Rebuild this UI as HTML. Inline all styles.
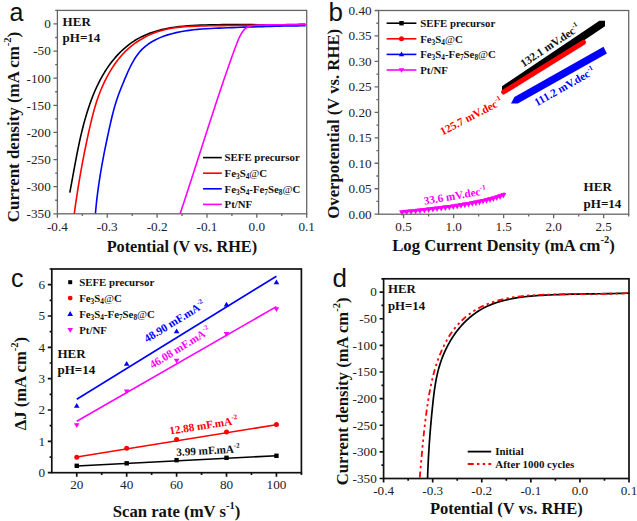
<!DOCTYPE html>
<html><head><meta charset="utf-8"><style>
html,body{margin:0;padding:0;background:#fff;width:637px;height:521px;overflow:hidden;}
svg{display:block;}
</style></head><body>
<svg width="637" height="521" viewBox="0 0 637 521">
<rect width="637" height="521" fill="#fff"/>
<path d="M69.84,192.53L70.64,188.22L71.43,183.92L72.21,179.63L72.98,175.34L73.76,171.06L74.54,166.8L75.33,162.54L76.13,158.28L76.95,154.04L77.8,149.8L78.67,145.58L79.57,141.36L80.51,137.15L81.5,132.94L82.53,128.75L83.61,124.56L84.74,120.38L85.94,116.21L87.2,112.05L88.53,107.9L89.94,103.76L91.43,99.64L93.01,95.56L94.68,91.51L96.45,87.5L98.33,83.55L100.32,79.65L102.43,75.81L104.67,72.05L107.04,68.37L109.54,64.78L112.19,61.28L114.97,57.9L117.89,54.64L120.94,51.52L124.12,48.56L127.42,45.78L130.84,43.18L134.38,40.79L138.02,38.62L141.77,36.66L145.62,34.9L149.55,33.33L153.57,31.93L157.66,30.7L161.82,29.62L166.03,28.69L170.3,27.89L174.62,27.21L178.97,26.65L183.35,26.18L187.75,25.8L192.17,25.5L196.59,25.26L201.02,25.08L205.44,24.94L209.84,24.84L214.23,24.75L218.59,24.69L222.94,24.65L227.27,24.62L231.6,24.61L235.91,24.61L240.21,24.61L244.51,24.63L248.8,24.65L253.09,24.67L257.39,24.69L261.68,24.71L265.98,24.72L270.29,24.73L274.61,24.73L278.94,24.72L283.28,24.7L287.64,24.66L292.01,24.6L296.41,24.52L300.83,24.42L305.27,24.3" fill="none" stroke="#000" stroke-width="1.6" stroke-linejoin="round"/>
<path d="M74.26,213.78L74.87,209.29L75.5,204.8L76.16,200.31L76.83,195.82L77.53,191.32L78.24,186.83L78.98,182.34L79.74,177.85L80.52,173.36L81.32,168.88L82.14,164.4L82.98,159.93L83.85,155.46L84.73,151L85.63,146.54L86.56,142.09L87.5,137.65L88.47,133.22L89.45,128.8L90.46,124.39L91.5,119.99L92.6,115.61L93.76,111.24L94.99,106.9L96.32,102.58L97.75,98.29L99.3,94.02L100.97,89.79L102.77,85.59L104.7,81.44L106.76,77.33L108.96,73.29L111.31,69.34L113.8,65.48L116.45,61.74L119.26,58.13L122.22,54.68L125.36,51.4L128.66,48.3L132.13,45.41L135.76,42.72L139.53,40.23L143.42,37.94L147.44,35.87L151.56,34L155.77,32.36L160.06,30.93L164.43,29.72L168.85,28.73L173.31,27.95L177.82,27.35L182.36,26.9L186.92,26.57L191.49,26.34L196.07,26.16L200.65,26.03L205.22,25.91L209.78,25.81L214.34,25.72L218.9,25.65L223.44,25.58L227.99,25.52L232.53,25.47L237.07,25.43L241.6,25.39L246.13,25.36L250.67,25.33L255.2,25.3L259.73,25.26L264.27,25.23L268.8,25.19L273.34,25.15L277.88,25.1L282.42,25.05L286.97,24.98L291.52,24.91L296.08,24.82L300.64,24.72L305.22,24.61" fill="none" stroke="#ff0000" stroke-width="1.6" stroke-linejoin="round"/>
<path d="M95.41,213.79L95.78,209.5L96.2,205.21L96.65,200.92L97.15,196.63L97.69,192.35L98.27,188.06L98.88,183.79L99.52,179.51L100.2,175.24L100.91,170.97L101.65,166.71L102.41,162.45L103.2,158.19L104.01,153.95L104.84,149.7L105.7,145.47L106.57,141.24L107.46,137.01L108.36,132.8L109.28,128.59L110.21,124.39L111.17,120.2L112.17,116.03L113.23,111.88L114.35,107.75L115.55,103.64L116.84,99.56L118.23,95.51L119.73,91.49L121.31,87.49L122.96,83.46L124.64,79.41L126.37,75.33L128.15,71.26L130.04,67.24L132.04,63.31L134.21,59.53L136.56,55.92L139.13,52.53L141.95,49.41L145.03,46.58L148.35,44.03L151.89,41.73L155.61,39.69L159.49,37.87L163.51,36.27L167.64,34.87L171.86,33.66L176.13,32.61L180.43,31.72L184.74,30.97L189.05,30.34L193.35,29.82L197.66,29.39L201.96,29.04L206.25,28.76L210.55,28.52L214.85,28.32L219.16,28.14L223.46,27.97L227.77,27.8L232.08,27.63L236.39,27.47L240.71,27.31L245.03,27.16L249.35,27.01L253.67,26.87L257.99,26.74L262.31,26.61L266.63,26.49L270.95,26.37L275.27,26.26L279.6,26.16L283.92,26.06L288.24,25.98L292.55,25.9L296.87,25.83L301.19,25.77L305.5,25.71" fill="none" stroke="#0000ff" stroke-width="1.6" stroke-linejoin="round"/>
<path d="M180.13,213.75L181.16,210.66L182.18,207.57L183.2,204.48L184.22,201.39L185.23,198.29L186.25,195.19L187.26,192.08L188.28,188.98L189.29,185.87L190.3,182.76L191.3,179.64L192.31,176.53L193.32,173.41L194.33,170.29L195.33,167.17L196.34,164.05L197.34,160.93L198.35,157.81L199.35,154.69L200.36,151.57L201.36,148.44L202.37,145.32L203.37,142.2L204.38,139.08L205.39,135.96L206.39,132.84L207.4,129.72L208.41,126.6L209.42,123.48L210.44,120.37L211.45,117.25L212.47,114.14L213.49,111.03L214.51,107.93L215.53,104.82L216.55,101.72L217.58,98.62L218.61,95.53L219.64,92.43L220.67,89.34L221.71,86.26L222.75,83.18L223.79,80.1L224.84,77.03L225.89,73.96L226.94,70.89L228,67.83L229.07,64.77L230.14,61.7L231.23,58.63L232.34,55.55L233.47,52.45L234.62,49.34L235.8,46.2L237,43.05L238.25,39.89L239.61,36.8L241.14,33.88L242.91,31.2L244.98,28.87L247.43,27.04L250.31,25.95L253.51,25.47L256.84,25.26L260.16,25.11L263.47,24.99L266.77,24.91L270.05,24.85L273.33,24.81L276.6,24.79L279.87,24.77L283.13,24.76L286.39,24.76L289.65,24.75L292.91,24.72L296.17,24.69L299.44,24.64L302.72,24.56L306,24.45" fill="none" stroke="#ff00ff" stroke-width="1.6" stroke-linejoin="round"/>
<rect x="57.4" y="10.4" width="249.3" height="203.4" fill="none" stroke="#666" stroke-width="1.3"/>
<path d="M57.4,213.8v4M107.26,213.8v4M157.12,213.8v4M206.98,213.8v4M256.84,213.8v4M306.7,213.8v4M82.33,213.8v2.2M132.19,213.8v2.2M182.05,213.8v2.2M231.91,213.8v2.2M281.77,213.8v2.2M57.4,213.8h-4M57.4,186.68h-4M57.4,159.56h-4M57.4,132.44h-4M57.4,105.32h-4M57.4,78.2h-4M57.4,51.08h-4M57.4,23.96h-4M57.4,200.24h-2.2M57.4,173.12h-2.2M57.4,146h-2.2M57.4,118.88h-2.2M57.4,91.76h-2.2M57.4,64.64h-2.2M57.4,37.52h-2.2M57.4,10.4h-2.2" stroke="#666" stroke-width="1.3" fill="none"/>
<text x="57.4" y="230.8" font-size="13.2" text-anchor="middle" font-weight="normal" fill="#222" font-family='"Liberation Serif", serif' >-0.4</text>
<text x="107.26" y="230.8" font-size="13.2" text-anchor="middle" font-weight="normal" fill="#222" font-family='"Liberation Serif", serif' >-0.3</text>
<text x="157.12" y="230.8" font-size="13.2" text-anchor="middle" font-weight="normal" fill="#222" font-family='"Liberation Serif", serif' >-0.2</text>
<text x="206.98" y="230.8" font-size="13.2" text-anchor="middle" font-weight="normal" fill="#222" font-family='"Liberation Serif", serif' >-0.1</text>
<text x="256.84" y="230.8" font-size="13.2" text-anchor="middle" font-weight="normal" fill="#222" font-family='"Liberation Serif", serif' >0.0</text>
<text x="306.7" y="230.8" font-size="13.2" text-anchor="middle" font-weight="normal" fill="#222" font-family='"Liberation Serif", serif' >0.1</text>
<text x="50.8" y="218.16" font-size="13.2" text-anchor="end" font-weight="normal" fill="#222" font-family='"Liberation Serif", serif' >-350</text>
<text x="50.8" y="191.04" font-size="13.2" text-anchor="end" font-weight="normal" fill="#222" font-family='"Liberation Serif", serif' >-300</text>
<text x="50.8" y="163.92" font-size="13.2" text-anchor="end" font-weight="normal" fill="#222" font-family='"Liberation Serif", serif' >-250</text>
<text x="50.8" y="136.8" font-size="13.2" text-anchor="end" font-weight="normal" fill="#222" font-family='"Liberation Serif", serif' >-200</text>
<text x="50.8" y="109.68" font-size="13.2" text-anchor="end" font-weight="normal" fill="#222" font-family='"Liberation Serif", serif' >-150</text>
<text x="50.8" y="82.56" font-size="13.2" text-anchor="end" font-weight="normal" fill="#222" font-family='"Liberation Serif", serif' >-100</text>
<text x="50.8" y="55.44" font-size="13.2" text-anchor="end" font-weight="normal" fill="#222" font-family='"Liberation Serif", serif' >-50</text>
<text x="50.8" y="28.32" font-size="13.2" text-anchor="end" font-weight="normal" fill="#222" font-family='"Liberation Serif", serif' >0</text>
<text x="62.6" y="25.7" font-size="13" text-anchor="start" font-weight="bold" fill="#111" font-family='"Liberation Serif", serif' >HER</text>
<text x="62.6" y="42.2" font-size="13" text-anchor="start" font-weight="bold" fill="#111" font-family='"Liberation Serif", serif' >pH=14</text>
<path d="M203,157.6H221.8" stroke="#000" stroke-width="1.6"/>
<text x="224.6" y="161.3" font-size="10.8" text-anchor="start" font-weight="bold" fill="#111" font-family='"Liberation Serif", serif' >SEFE precursor</text>
<path d="M203,173.2H221.8" stroke="#ff0000" stroke-width="1.6"/>
<text x="224.6" y="176.9" font-size="10.8" text-anchor="start" font-weight="bold" fill="#111" font-family='"Liberation Serif", serif' >Fe<tspan font-size="7.34" dy="2.3">3</tspan><tspan dy="-2.3">S</tspan><tspan font-size="7.34" dy="2.3">4</tspan><tspan dy="-2.3"><tspan font-weight="normal">@</tspan>C</tspan></text>
<path d="M203,188.8H221.8" stroke="#0000ff" stroke-width="1.6"/>
<text x="224.6" y="192.5" font-size="10.8" text-anchor="start" font-weight="bold" fill="#111" font-family='"Liberation Serif", serif' >Fe<tspan font-size="7.34" dy="2.3">3</tspan><tspan dy="-2.3">S</tspan><tspan font-size="7.34" dy="2.3">4</tspan><tspan dy="-2.3">-Fe</tspan><tspan font-size="7.34" dy="2.3">7</tspan><tspan dy="-2.3">Se</tspan><tspan font-size="7.34" dy="2.3">8</tspan><tspan dy="-2.3"><tspan font-weight="normal">@</tspan>C</tspan></text>
<path d="M203,204.4H221.8" stroke="#ff00ff" stroke-width="1.6"/>
<text x="224.6" y="208.1" font-size="10.8" text-anchor="start" font-weight="bold" fill="#111" font-family='"Liberation Serif", serif' >Pt/NF</text>
<text x="181.9" y="252.2" font-size="16.25" text-anchor="middle" font-weight="bold" fill="#111" font-family='"Liberation Serif", serif' >Potential (V vs. RHE)</text>
<g transform="translate(19.3,127) rotate(-90)">
<text x="0" y="0" font-size="16.95" text-anchor="middle" font-weight="bold" fill="#111" font-family='"Liberation Serif", serif' >Current density (mA cm<tspan font-size="10.5" dy="-8">-2</tspan><tspan dy="8">)</tspan></text>
</g>
<text x="9.6" y="21" font-size="25" text-anchor="start" font-weight="normal" fill="#111" font-family='"Liberation Sans", sans-serif' >a</text>
<path d="M502,91.8L502,86.2L599.4,20.7L605,20.7L605,26.3L507.6,91.8Z" fill="#000"/>
<path d="M503.6,92L583.5,42.3" stroke="#ff0000" stroke-width="5" stroke-linecap="round"/>
<path d="M511,103.6L514.4,97L603.5,46.8L606.9,53.4L517.8,103.6Z" fill="#0000ff"/>
<path d="M402,211.6L403.75,211.44L405.49,211.28L407.24,211.11L408.98,210.94L410.73,210.77L412.47,210.6L414.22,210.42L415.97,210.23L417.71,210.05L419.46,209.86L421.2,209.67L422.95,209.47L424.69,209.28L426.44,209.08L428.19,208.88L429.93,208.67L431.68,208.47L433.42,208.26L435.17,208.05L436.92,207.83L438.66,207.62L440.41,207.4L442.15,207.18L443.9,206.96L445.64,206.74L447.39,206.51L449.14,206.27L450.88,206.03L452.63,205.79L454.37,205.54L456.12,205.28L457.86,205.02L459.61,204.75L461.36,204.47L463.1,204.19L464.85,203.89L466.59,203.59L468.34,203.28L470.08,202.96L471.83,202.64L473.58,202.3L475.32,201.95L477.07,201.59L478.81,201.23L480.56,200.85L482.31,200.46L484.05,200.06L485.8,199.65L487.54,199.22L489.29,198.78L491.03,198.33L492.78,197.86L494.53,197.36L496.27,196.84L498.02,196.28L499.76,195.68L501.51,195.04L503.25,194.35L505,193.6" fill="none" stroke="#ff00ff" stroke-width="2.8" stroke-linecap="butt"/>
<path d="M399.1,210.3h5.8l-2.9,5.6zM403.7,209.87h5.8l-2.9,5.6zM408.24,209.43h5.8l-2.9,5.6zM412.71,208.97h5.8l-2.9,5.6zM417.13,208.5h5.8l-2.9,5.6zM421.48,208.01h5.8l-2.9,5.6zM425.78,207.52h5.8l-2.9,5.6zM430.02,207.02h5.8l-2.9,5.6zM434.2,206.51h5.8l-2.9,5.6zM438.32,206h5.8l-2.9,5.6zM442.39,205.48h5.8l-2.9,5.6zM446.4,204.95h5.8l-2.9,5.6zM450.35,204.4h5.8l-2.9,5.6zM454.26,203.83h5.8l-2.9,5.6zM458.11,203.23h5.8l-2.9,5.6zM461.91,202.6h5.8l-2.9,5.6zM465.65,201.94h5.8l-2.9,5.6zM469.35,201.26h5.8l-2.9,5.6zM472.99,200.54h5.8l-2.9,5.6zM476.59,199.78h5.8l-2.9,5.6zM480.14,199h5.8l-2.9,5.6zM483.63,198.17h5.8l-2.9,5.6zM487.09,197.3h5.8l-2.9,5.6zM490.49,196.39h5.8l-2.9,5.6zM493.85,195.39h5.8l-2.9,5.6zM497.16,194.28h5.8l-2.9,5.6zM500.43,193.02h5.8l-2.9,5.6z" fill="#ff00ff"/>
<rect x="378.6" y="10.5" width="250.1" height="203.7" fill="none" stroke="#666" stroke-width="1.3"/>
<path d="M403.61,214.2v4M453.63,214.2v4M503.65,214.2v4M553.67,214.2v4M603.69,214.2v4M428.62,214.2v2.2M478.64,214.2v2.2M528.66,214.2v2.2M578.68,214.2v2.2M628.7,214.2v2.2M378.6,214.2h-4M378.6,188.74h-4M378.6,163.27h-4M378.6,137.81h-4M378.6,112.35h-4M378.6,86.89h-4M378.6,61.43h-4M378.6,35.96h-4M378.6,10.5h-4M378.6,201.47h-2.2M378.6,176.01h-2.2M378.6,150.54h-2.2M378.6,125.08h-2.2M378.6,99.62h-2.2M378.6,74.16h-2.2M378.6,48.69h-2.2M378.6,23.23h-2.2" stroke="#666" stroke-width="1.3" fill="none"/>
<text x="403.61" y="230.8" font-size="13.2" text-anchor="middle" font-weight="normal" fill="#222" font-family='"Liberation Serif", serif' >0.5</text>
<text x="453.63" y="230.8" font-size="13.2" text-anchor="middle" font-weight="normal" fill="#222" font-family='"Liberation Serif", serif' >1.0</text>
<text x="503.65" y="230.8" font-size="13.2" text-anchor="middle" font-weight="normal" fill="#222" font-family='"Liberation Serif", serif' >1.5</text>
<text x="553.67" y="230.8" font-size="13.2" text-anchor="middle" font-weight="normal" fill="#222" font-family='"Liberation Serif", serif' >2.0</text>
<text x="603.69" y="230.8" font-size="13.2" text-anchor="middle" font-weight="normal" fill="#222" font-family='"Liberation Serif", serif' >2.5</text>
<text x="371.6" y="218.56" font-size="13.2" text-anchor="end" font-weight="normal" fill="#222" font-family='"Liberation Serif", serif' >0.00</text>
<text x="371.6" y="193.09" font-size="13.2" text-anchor="end" font-weight="normal" fill="#222" font-family='"Liberation Serif", serif' >0.05</text>
<text x="371.6" y="167.63" font-size="13.2" text-anchor="end" font-weight="normal" fill="#222" font-family='"Liberation Serif", serif' >0.10</text>
<text x="371.6" y="142.17" font-size="13.2" text-anchor="end" font-weight="normal" fill="#222" font-family='"Liberation Serif", serif' >0.15</text>
<text x="371.6" y="116.71" font-size="13.2" text-anchor="end" font-weight="normal" fill="#222" font-family='"Liberation Serif", serif' >0.20</text>
<text x="371.6" y="91.24" font-size="13.2" text-anchor="end" font-weight="normal" fill="#222" font-family='"Liberation Serif", serif' >0.25</text>
<text x="371.6" y="65.78" font-size="13.2" text-anchor="end" font-weight="normal" fill="#222" font-family='"Liberation Serif", serif' >0.30</text>
<text x="371.6" y="40.32" font-size="13.2" text-anchor="end" font-weight="normal" fill="#222" font-family='"Liberation Serif", serif' >0.35</text>
<text x="371.6" y="14.86" font-size="13.2" text-anchor="end" font-weight="normal" fill="#222" font-family='"Liberation Serif", serif' >0.40</text>
<path d="M386.6,23.2H416.4" stroke="#000" stroke-width="1.6"/>
<rect x="399.3" y="21" width="4.4" height="4.4" fill="#000"/>
<text x="420.2" y="26.9" font-size="10.8" text-anchor="start" font-weight="bold" fill="#111" font-family='"Liberation Serif", serif' >SEFE precursor</text>
<path d="M386.6,38.8H416.4" stroke="#ff0000" stroke-width="1.6"/>
<circle cx="401.5" cy="38.8" r="2.5" fill="#ff0000"/>
<text x="420.2" y="42.5" font-size="10.8" text-anchor="start" font-weight="bold" fill="#111" font-family='"Liberation Serif", serif' >Fe<tspan font-size="7.34" dy="2.3">3</tspan><tspan dy="-2.3">S</tspan><tspan font-size="7.34" dy="2.3">4</tspan><tspan dy="-2.3"><tspan font-weight="normal">@</tspan>C</tspan></text>
<path d="M386.6,54.4H416.4" stroke="#0000ff" stroke-width="1.6"/>
<path d="M401.5,51.6l2.7,4.6h-5.4z" fill="#0000ff"/>
<text x="420.2" y="58.1" font-size="10.8" text-anchor="start" font-weight="bold" fill="#111" font-family='"Liberation Serif", serif' >Fe<tspan font-size="7.34" dy="2.3">3</tspan><tspan dy="-2.3">S</tspan><tspan font-size="7.34" dy="2.3">4</tspan><tspan dy="-2.3">-Fe</tspan><tspan font-size="7.34" dy="2.3">7</tspan><tspan dy="-2.3">Se</tspan><tspan font-size="7.34" dy="2.3">8</tspan><tspan dy="-2.3"><tspan font-weight="normal">@</tspan>C</tspan></text>
<path d="M386.6,70H416.4" stroke="#ff00ff" stroke-width="1.6"/>
<path d="M401.5,72.8l2.7,-4.6h-5.4z" fill="#ff00ff"/>
<text x="420.2" y="73.7" font-size="10.8" text-anchor="start" font-weight="bold" fill="#111" font-family='"Liberation Serif", serif' >Pt/NF</text>
<text x="583.6" y="191.3" font-size="13" text-anchor="start" font-weight="bold" fill="#111" font-family='"Liberation Serif", serif' >HER</text>
<text x="583.6" y="207.6" font-size="13" text-anchor="start" font-weight="bold" fill="#111" font-family='"Liberation Serif", serif' >pH=14</text>
<g transform="translate(523.5,67.5) rotate(-33.5)">
<text x="0" y="0" font-size="11.2" text-anchor="start" font-weight="bold" fill="#111" font-family='"Liberation Serif", serif' >132.1 mV.dec<tspan font-size="7" dy="-5">-1</tspan></text>
</g>
<g transform="translate(442.5,135.5) rotate(-27.5)">
<text x="0" y="0" font-size="11.2" text-anchor="start" font-weight="bold" fill="#ff0000" font-family='"Liberation Serif", serif' >125.7 mV.dec<tspan font-size="7" dy="-5">-1</tspan></text>
</g>
<g transform="translate(537,106.5) rotate(-29.5)">
<text x="0" y="0" font-size="11.2" text-anchor="start" font-weight="bold" fill="#0000ff" font-family='"Liberation Serif", serif' >111.2 mV.dec<tspan font-size="7" dy="-5">-1</tspan></text>
</g>
<g transform="translate(424.5,204.8) rotate(-9.8)">
<text x="0" y="0" font-size="11.2" text-anchor="start" font-weight="bold" fill="#ff00ff" font-family='"Liberation Serif", serif' >33.6 mV.dec<tspan font-size="7" dy="-5">-1</tspan></text>
</g>
<text x="503.5" y="251" font-size="16.7" text-anchor="middle" font-weight="bold" fill="#111" font-family='"Liberation Serif", serif' >Log Current Density (mA cm<tspan font-size="10.5" dy="-8">-2</tspan><tspan dy="8">)</tspan></text>
<g transform="translate(339.3,123.8) rotate(-90)">
<text x="0" y="0" font-size="16.7" text-anchor="middle" font-weight="bold" fill="#111" font-family='"Liberation Serif", serif' >Overpotential (V vs. RHE)</text>
</g>
<text x="328.5" y="21.2" font-size="26" text-anchor="start" font-weight="normal" fill="#111" font-family='"Liberation Sans", sans-serif' >b</text>
<path d="M76.76,465.96L276.44,455.78" stroke="#000" stroke-width="1.6"/>
<rect x="74.56" y="463.61" width="4.4" height="4.4" fill="#000"/>
<rect x="124.48" y="461.1" width="4.4" height="4.4" fill="#000"/>
<rect x="174.4" y="457.96" width="4.4" height="4.4" fill="#000"/>
<rect x="224.32" y="455.61" width="4.4" height="4.4" fill="#000"/>
<rect x="274.24" y="453.58" width="4.4" height="4.4" fill="#000"/>
<path d="M76.76,457.03L276.44,424.75" stroke="#ff0000" stroke-width="1.6"/>
<circle cx="76.76" cy="457.34" r="2.5" fill="#ff0000"/>
<circle cx="126.68" cy="448.26" r="2.5" fill="#ff0000"/>
<circle cx="176.6" cy="439.48" r="2.5" fill="#ff0000"/>
<circle cx="226.52" cy="431.96" r="2.5" fill="#ff0000"/>
<circle cx="276.44" cy="424.6" r="2.5" fill="#ff0000"/>
<path d="M76.76,399.21L276.44,276.21" stroke="#0000ff" stroke-width="1.6"/>
<path d="M76.76,402.95l2.8,4.8h-5.6z" fill="#0000ff"/>
<path d="M126.68,360.96l2.8,4.8h-5.6z" fill="#0000ff"/>
<path d="M176.6,328.52l2.8,4.8h-5.6z" fill="#0000ff"/>
<path d="M226.52,301.73l2.8,4.8h-5.6z" fill="#0000ff"/>
<path d="M276.44,279.48l2.8,4.8h-5.6z" fill="#0000ff"/>
<path d="M76.76,421.3L276.44,306.61" stroke="#ff00ff" stroke-width="1.6"/>
<path d="M76.76,428.07l2.8,-4.8h-5.6z" fill="#ff00ff"/>
<path d="M126.68,394.22l2.8,-4.8h-5.6z" fill="#ff00ff"/>
<path d="M176.6,363.51l2.8,-4.8h-5.6z" fill="#ff00ff"/>
<path d="M226.52,336.87l2.8,-4.8h-5.6z" fill="#ff00ff"/>
<path d="M276.44,312.11l2.8,-4.8h-5.6z" fill="#ff00ff"/>
<rect x="51.8" y="269" width="249.6" height="203.7" fill="none" stroke="#111" stroke-width="1.7"/>
<path d="M76.76,472.7v4M126.68,472.7v4M176.6,472.7v4M226.52,472.7v4M276.44,472.7v4M101.72,472.7v2.2M151.64,472.7v2.2M201.56,472.7v2.2M251.48,472.7v2.2M301.4,472.7v2.2M51.8,472.7h-4M51.8,441.36h-4M51.8,410.02h-4M51.8,378.68h-4M51.8,347.35h-4M51.8,316.01h-4M51.8,284.67h-4M51.8,457.03h-2.2M51.8,425.69h-2.2M51.8,394.35h-2.2M51.8,363.02h-2.2M51.8,331.68h-2.2M51.8,300.34h-2.2M51.8,269h-2.2" stroke="#111" stroke-width="1.7" fill="none"/>
<text x="76.76" y="489" font-size="13.2" text-anchor="middle" font-weight="normal" fill="#222" font-family='"Liberation Serif", serif' >20</text>
<text x="126.68" y="489" font-size="13.2" text-anchor="middle" font-weight="normal" fill="#222" font-family='"Liberation Serif", serif' >40</text>
<text x="176.6" y="489" font-size="13.2" text-anchor="middle" font-weight="normal" fill="#222" font-family='"Liberation Serif", serif' >60</text>
<text x="226.52" y="489" font-size="13.2" text-anchor="middle" font-weight="normal" fill="#222" font-family='"Liberation Serif", serif' >80</text>
<text x="276.44" y="489" font-size="13.2" text-anchor="middle" font-weight="normal" fill="#222" font-family='"Liberation Serif", serif' >100</text>
<text x="45" y="477.06" font-size="13.2" text-anchor="end" font-weight="normal" fill="#222" font-family='"Liberation Serif", serif' >0</text>
<text x="45" y="445.72" font-size="13.2" text-anchor="end" font-weight="normal" fill="#222" font-family='"Liberation Serif", serif' >1</text>
<text x="45" y="414.38" font-size="13.2" text-anchor="end" font-weight="normal" fill="#222" font-family='"Liberation Serif", serif' >2</text>
<text x="45" y="383.04" font-size="13.2" text-anchor="end" font-weight="normal" fill="#222" font-family='"Liberation Serif", serif' >3</text>
<text x="45" y="351.7" font-size="13.2" text-anchor="end" font-weight="normal" fill="#222" font-family='"Liberation Serif", serif' >4</text>
<text x="45" y="320.36" font-size="13.2" text-anchor="end" font-weight="normal" fill="#222" font-family='"Liberation Serif", serif' >5</text>
<text x="45" y="289.03" font-size="13.2" text-anchor="end" font-weight="normal" fill="#222" font-family='"Liberation Serif", serif' >6</text>
<rect x="68.2" y="280.2" width="4" height="4" fill="#000"/>
<text x="79.2" y="285.9" font-size="10.8" text-anchor="start" font-weight="bold" fill="#111" font-family='"Liberation Serif", serif' >SEFE precursor</text>
<circle cx="70.2" cy="298.1" r="2.4" fill="#ff0000"/>
<text x="79.2" y="301.8" font-size="10.8" text-anchor="start" font-weight="bold" fill="#111" font-family='"Liberation Serif", serif' >Fe<tspan font-size="7.34" dy="2.3">3</tspan><tspan dy="-2.3">S</tspan><tspan font-size="7.34" dy="2.3">4</tspan><tspan dy="-2.3"><tspan font-weight="normal">@</tspan>C</tspan></text>
<path d="M70.2,311.1l2.8,4.8h-5.6z" fill="#0000ff"/>
<text x="79.2" y="317.7" font-size="10.8" text-anchor="start" font-weight="bold" fill="#111" font-family='"Liberation Serif", serif' >Fe<tspan font-size="7.34" dy="2.3">3</tspan><tspan dy="-2.3">S</tspan><tspan font-size="7.34" dy="2.3">4</tspan><tspan dy="-2.3">-Fe</tspan><tspan font-size="7.34" dy="2.3">7</tspan><tspan dy="-2.3">Se</tspan><tspan font-size="7.34" dy="2.3">8</tspan><tspan dy="-2.3"><tspan font-weight="normal">@</tspan>C</tspan></text>
<path d="M70.2,332.8l2.8,-4.8h-5.6z" fill="#ff00ff"/>
<text x="79.2" y="333.6" font-size="10.8" text-anchor="start" font-weight="bold" fill="#111" font-family='"Liberation Serif", serif' >Pt/NF</text>
<text x="57.5" y="357.9" font-size="13" text-anchor="start" font-weight="bold" fill="#111" font-family='"Liberation Serif", serif' >HER</text>
<text x="57.5" y="374.2" font-size="13" text-anchor="start" font-weight="bold" fill="#111" font-family='"Liberation Serif", serif' >pH=14</text>
<g transform="translate(147,342.7) rotate(-31.5)">
<text x="0" y="0" font-size="11.2" text-anchor="start" font-weight="bold" fill="#0000ff" font-family='"Liberation Serif", serif' >48.90 mF.mA<tspan font-size="7" dy="-5">-2</tspan></text>
</g>
<g transform="translate(152.5,368.8) rotate(-31.5)">
<text x="0" y="0" font-size="11.2" text-anchor="start" font-weight="bold" fill="#ff00ff" font-family='"Liberation Serif", serif' >46.08 mF.mA<tspan font-size="7" dy="-5">-2</tspan></text>
</g>
<g transform="translate(170,434.6) rotate(-9)">
<text x="0" y="0" font-size="11.2" text-anchor="start" font-weight="bold" fill="#ff0000" font-family='"Liberation Serif", serif' >12.88 mF.mA<tspan font-size="7" dy="-5">-2</tspan></text>
</g>
<g transform="translate(176.5,456) rotate(-3.2)">
<text x="0" y="0" font-size="11.2" text-anchor="start" font-weight="bold" fill="#111" font-family='"Liberation Serif", serif' >3.99 mF.mA<tspan font-size="7" dy="-5">-2</tspan></text>
</g>
<text x="176.5" y="516.5" font-size="16.7" text-anchor="middle" font-weight="bold" fill="#111" font-family='"Liberation Serif", serif' >Scan rate (mV s<tspan font-size="10.5" dy="-8">-1</tspan><tspan dy="8">)</tspan></text>
<g transform="translate(26.3,383.5) rotate(-90)">
<text x="0" y="0" font-size="16.7" text-anchor="middle" font-weight="bold" fill="#111" font-family='"Liberation Serif", serif' >&#916;J (mA cm<tspan font-size="10.5" dy="-8">-2</tspan><tspan dy="8">)</tspan></text>
</g>
<text x="11" y="287" font-size="25" text-anchor="start" font-weight="normal" fill="#111" font-family='"Liberation Sans", sans-serif' >c</text>
<path d="M427.55,478.5L427.65,475.66L427.75,472.83L427.86,470L427.98,467.18L428.11,464.36L428.24,461.55L428.39,458.73L428.54,455.92L428.7,453.12L428.87,450.31L429.05,447.51L429.23,444.7L429.43,441.9L429.63,439.1L429.84,436.3L430.06,433.5L430.28,430.71L430.51,427.91L430.75,425.11L431,422.31L431.25,419.51L431.51,416.7L431.78,413.9L432.06,411.09L432.34,408.29L432.63,405.48L432.93,402.66L433.23,399.85L433.56,397.03L433.9,394.22L434.26,391.41L434.65,388.6L435.08,385.8L435.54,383L436.04,380.21L436.59,377.43L437.18,374.66L437.83,371.9L438.54,369.16L439.31,366.43L440.14,363.71L441.04,361.01L442.01,358.33L443.05,355.68L444.15,353.05L445.32,350.45L446.55,347.88L447.85,345.35L449.21,342.86L450.64,340.41L452.13,338L453.68,335.64L455.29,333.32L456.96,331.07L458.69,328.86L460.49,326.72L462.34,324.63L464.25,322.61L466.22,320.66L468.25,318.78L470.34,316.97L472.48,315.24L474.68,313.58L476.94,312.01L479.25,310.52L481.62,309.12L484.04,307.81L486.51,306.59L489.03,305.45L491.59,304.39L494.2,303.41L496.85,302.51L499.53,301.67L502.25,300.9L505,300.2L507.77,299.55L510.57,298.97L513.39,298.43L516.23,297.95L519.09,297.51L521.96,297.12L524.84,296.77L527.72,296.46L530.61,296.18L533.5,295.93L536.39,295.7L539.27,295.5L542.14,295.32L545.01,295.16L547.86,295.02L550.69,294.88L553.51,294.76L556.33,294.64L559.13,294.54L561.92,294.45L564.7,294.36L567.48,294.29L570.25,294.22L573.02,294.16L575.79,294.1L578.55,294.05L581.31,294L584.07,293.96L586.83,293.91L589.6,293.88L592.37,293.84L595.14,293.8L597.92,293.77L600.71,293.73L603.51,293.69L606.31,293.65L609.13,293.6L611.96,293.55L614.8,293.5L617.66,293.44L620.53,293.38L623.42,293.31L626.32,293.23L629.25,293.14" fill="none" stroke="#000" stroke-width="1.7"/>
<path d="M419.79,477.47L420.04,474.61L420.28,471.75L420.53,468.9L420.77,466.05L421.02,463.2L421.26,460.36L421.52,457.53L421.77,454.7L422.03,451.87L422.29,449.04L422.56,446.22L422.84,443.4L423.12,440.58L423.4,437.76L423.7,434.95L424,432.13L424.32,429.32L424.64,426.5L424.97,423.69L425.32,420.87L425.67,418.05L426.04,415.24L426.42,412.42L426.81,409.6L427.22,406.78L427.64,403.95L428.07,401.12L428.53,398.29L429,395.46L429.5,392.64L430.03,389.81L430.58,386.99L431.16,384.17L431.78,381.35L432.43,378.54L433.12,375.74L433.85,372.95L434.62,370.16L435.44,367.38L436.3,364.62L437.21,361.87L438.18,359.13L439.2,356.42L440.27,353.73L441.39,351.06L442.58,348.43L443.82,345.83L445.12,343.27L446.48,340.75L447.9,338.28L449.39,335.85L450.94,333.48L452.56,331.17L454.24,328.91L456,326.72L457.83,324.6L459.72,322.55L461.69,320.57L463.73,318.67L465.84,316.84L468.01,315.09L470.25,313.43L472.54,311.84L474.89,310.34L477.29,308.91L479.74,307.58L482.24,306.32L484.78,305.16L487.37,304.07L489.99,303.07L492.65,302.14L495.34,301.28L498.06,300.49L500.82,299.77L503.6,299.12L506.4,298.52L509.23,297.98L512.08,297.49L514.94,297.05L517.82,296.66L520.71,296.32L523.61,296.01L526.52,295.74L529.43,295.51L532.34,295.3L535.26,295.12L538.17,294.97L541.08,294.84L543.98,294.72L546.87,294.62L549.75,294.54L552.62,294.46L555.48,294.39L558.33,294.34L561.17,294.29L564.01,294.25L566.84,294.21L569.67,294.18L572.49,294.16L575.31,294.14L578.12,294.12L580.94,294.1L583.75,294.08L586.56,294.06L589.38,294.04L592.19,294.02L595.01,294L597.83,293.97L600.65,293.93L603.48,293.89L606.31,293.84L609.15,293.78L611.99,293.71L614.85,293.63L617.71,293.55L620.58,293.44L623.46,293.33L626.36,293.2L629.26,293.06" fill="none" stroke="#ff0000" stroke-width="1.8" stroke-dasharray="6 3.3 2.4 3.3 2.4 3.3"/>
<rect x="383.6" y="278.8" width="245.4" height="199.7" fill="none" stroke="#111" stroke-width="1.7"/>
<path d="M383.6,478.5v4M432.68,478.5v4M481.76,478.5v4M530.84,478.5v4M579.92,478.5v4M629,478.5v4M408.14,478.5v2.2M457.22,478.5v2.2M506.3,478.5v2.2M555.38,478.5v2.2M604.46,478.5v2.2M383.6,478.5h-4M383.6,451.87h-4M383.6,425.25h-4M383.6,398.62h-4M383.6,371.99h-4M383.6,345.37h-4M383.6,318.74h-4M383.6,292.11h-4M383.6,465.19h-2.2M383.6,438.56h-2.2M383.6,411.93h-2.2M383.6,385.31h-2.2M383.6,358.68h-2.2M383.6,332.05h-2.2M383.6,305.43h-2.2M383.6,278.8h-2.2" stroke="#111" stroke-width="1.7" fill="none"/>
<text x="383.6" y="495.3" font-size="13.2" text-anchor="middle" font-weight="normal" fill="#222" font-family='"Liberation Serif", serif' >-0.4</text>
<text x="432.68" y="495.3" font-size="13.2" text-anchor="middle" font-weight="normal" fill="#222" font-family='"Liberation Serif", serif' >-0.3</text>
<text x="481.76" y="495.3" font-size="13.2" text-anchor="middle" font-weight="normal" fill="#222" font-family='"Liberation Serif", serif' >-0.2</text>
<text x="530.84" y="495.3" font-size="13.2" text-anchor="middle" font-weight="normal" fill="#222" font-family='"Liberation Serif", serif' >-0.1</text>
<text x="579.92" y="495.3" font-size="13.2" text-anchor="middle" font-weight="normal" fill="#222" font-family='"Liberation Serif", serif' >0.0</text>
<text x="629" y="495.3" font-size="13.2" text-anchor="middle" font-weight="normal" fill="#222" font-family='"Liberation Serif", serif' >0.1</text>
<text x="376.8" y="482.86" font-size="13.2" text-anchor="end" font-weight="normal" fill="#222" font-family='"Liberation Serif", serif' >-350</text>
<text x="376.8" y="456.23" font-size="13.2" text-anchor="end" font-weight="normal" fill="#222" font-family='"Liberation Serif", serif' >-300</text>
<text x="376.8" y="429.6" font-size="13.2" text-anchor="end" font-weight="normal" fill="#222" font-family='"Liberation Serif", serif' >-250</text>
<text x="376.8" y="402.98" font-size="13.2" text-anchor="end" font-weight="normal" fill="#222" font-family='"Liberation Serif", serif' >-200</text>
<text x="376.8" y="376.35" font-size="13.2" text-anchor="end" font-weight="normal" fill="#222" font-family='"Liberation Serif", serif' >-150</text>
<text x="376.8" y="349.72" font-size="13.2" text-anchor="end" font-weight="normal" fill="#222" font-family='"Liberation Serif", serif' >-100</text>
<text x="376.8" y="323.1" font-size="13.2" text-anchor="end" font-weight="normal" fill="#222" font-family='"Liberation Serif", serif' >-50</text>
<text x="376.8" y="296.47" font-size="13.2" text-anchor="end" font-weight="normal" fill="#222" font-family='"Liberation Serif", serif' >0</text>
<text x="388" y="293.4" font-size="12.8" text-anchor="start" font-weight="bold" fill="#111" font-family='"Liberation Serif", serif' >HER</text>
<text x="388" y="309.7" font-size="12.8" text-anchor="start" font-weight="bold" fill="#111" font-family='"Liberation Serif", serif' >pH=14</text>
<path d="M467.7,451.6H491.2" stroke="#000" stroke-width="1.8"/>
<path d="M467.7,464H491.2" stroke="#ff0000" stroke-width="2" stroke-dasharray="6 3.3 2.4 3.3 2.4 3.3"/>
<text x="495.3" y="454.8" font-size="10.9" text-anchor="start" font-weight="bold" fill="#111" font-family='"Liberation Serif", serif' >Initial</text>
<text x="495.3" y="468" font-size="10.9" text-anchor="start" font-weight="bold" fill="#111" font-family='"Liberation Serif", serif' >After 1000 cycles</text>
<text x="506.3" y="513.6" font-size="16.5" text-anchor="middle" font-weight="bold" fill="#111" font-family='"Liberation Serif", serif' >Potential (V vs. RHE)</text>
<g transform="translate(348,391.4) rotate(-90)">
<text x="0" y="0" font-size="16.7" text-anchor="middle" font-weight="bold" fill="#111" font-family='"Liberation Serif", serif' >Current density (mA cm<tspan font-size="10.5" dy="-8">-2</tspan><tspan dy="8">)</tspan></text>
</g>
<text x="332.5" y="287" font-size="26" text-anchor="start" font-weight="normal" fill="#111" font-family='"Liberation Sans", sans-serif' >d</text>
</svg>
</body></html>
